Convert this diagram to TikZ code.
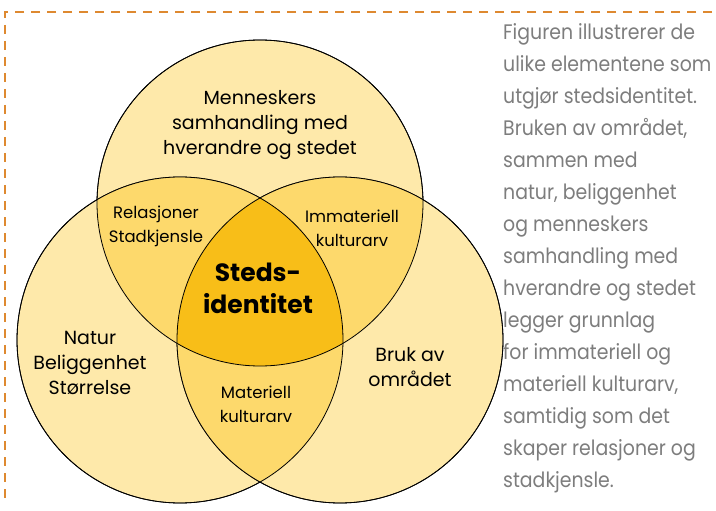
\documentclass[tikz,border=0pt]{standalone}
\usepackage{fontspec}
\setmainfont{Poppins}
\newfontfamily\sidefont[FakeStretch=0.9]{Poppins}
\usetikzlibrary{positioning}

\definecolor{ramme}{RGB}{222,137,48}
\definecolor{lys}{RGB}{254,233,170}
\definecolor{mellom}{RGB}{253,217,108}
\definecolor{kjerne}{RGB}{248,190,24}
\definecolor{tekstgraa}{RGB}{125,125,125}

\begin{document}
\begin{tikzpicture}[x=1pt, y=-1pt]
      \tikzstyle{ring} = [circle, draw=black, line width=0.8pt, minimum size=326pt, inner sep=0pt]
      \tikzstyle{bigLabel} = [align=center, font=\fontsize{19}{25}\selectfont]
      \tikzstyle{smallLabel} = [align=center, font=\fontsize{16.5}{24}\selectfont]
      \tikzstyle{coreLabel} = [align=center, font=\fontsize{25}{32}\selectfont\bfseries]
      \tikzstyle{frameLine} = [draw=ramme, line width=2.4pt, dash pattern=on 9pt off 7pt]

      \useasboundingbox (0,0) rectangle (716,511);

      % Ramme
      \coordinate (hjorne) at (5,12);
      \coordinate (hoyre) at (712,12);
      \coordinate (bunn) at (5,503);
      \draw [frameLine] (hoyre) -- (hjorne) -- (bunn);

      % Sirkler
      \node [ring, fill=lys] (topp) at (260,203) {};
      \node [ring, fill=lys] (venstre) at (180,340) {};
      \node [ring, fill=lys] (hogre) at (340,340) {};

      % Snitt
      \begin{scope}
        \clip (topp.center) circle (163pt);
        \fill [mellom] (venstre.center) circle (163pt);
        \fill [mellom] (hogre.center) circle (163pt);
      \end{scope}
      \begin{scope}
        \clip (venstre.center) circle (163pt);
        \fill [mellom] (hogre.center) circle (163pt);
      \end{scope}
      \begin{scope}
        \clip (topp.center) circle (163pt);
        \clip (venstre.center) circle (163pt);
        \fill [kjerne] (hogre.center) circle (163pt);
      \end{scope}
      \draw [line width=0.8pt] (topp.center) circle (163pt);
      \draw [line width=0.8pt] (venstre.center) circle (163pt);
      \draw [line width=0.8pt] (hogre.center) circle (163pt);

      % Tekst
      \node [bigLabel] (samhandling) at (260,125) {Menneskers\\samhandling med\\hverandre og stedet};
      \node [smallLabel] (relasjoner) at (156,226) {Relasjoner\\Stadkjensle};
      \node [smallLabel] (immateriell) at (352,228) {Immateriell\\kulturarv};
      \node [coreLabel] (steds) at (258,288) {Steds-\\identitet};
      \node [bigLabel] (natur) at (90,363) {Natur\\Beliggenhet\\Størrelse};
      \node [bigLabel] (bruk) at (410,367) {Bruk av\\området};
      \node [smallLabel] (materiell) at (256,404) {Materiell\\kulturarv};

      \node [anchor=north west, align=left, inner sep=0pt, text=tekstgraa,
             font=\sidefont\fontsize{21}{32}\selectfont] (forklaring) at (503,23)
        {Figuren illustrerer de\\ulike elementene som\\utgjør stedsidentitet.\\Bruken av området,\\sammen med\\natur, beliggenhet\\og menneskers\\samhandling med\\hverandre og stedet\\legger grunnlag\\for immateriell og\\materiell kulturarv,\\samtidig som det\\skaper relasjoner og\\stadkjensle.};

    \end{tikzpicture}
\end{document}
